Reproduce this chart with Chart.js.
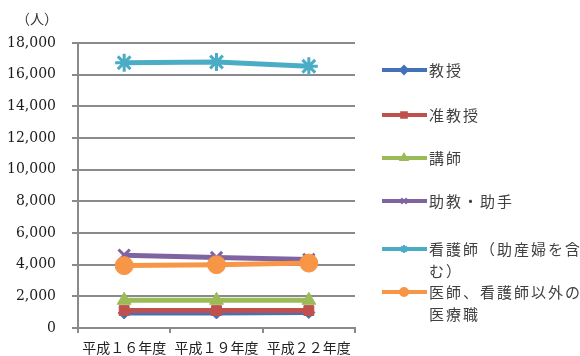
<!DOCTYPE html>
<html>
<head>
<meta charset="utf-8">
<script src="https://cdn.jsdelivr.net/npm/chart.js@4.4.1/dist/chart.umd.min.js"></script>
<style>
  html, body { margin: 0; padding: 0; background: #fff; }
  #wrap { width: 580px; height: 356px; }
</style>
</head>
<body>
<div id="wrap"><canvas id="grafico" width="580" height="356"></canvas></div>
<script>
// Datos del gráfico
const categorias = ['平成１６年度', '平成１９年度', '平成２２年度'];
const series = ['教授', '准教授', '講師', '助教・助手', '看護師（助産婦を含む）', '医師、看護師以外の医療職'];
const kyoju = [950, 950, 980];
const junKyoju = [1100, 1100, 1100];
const koshi = [1750, 1750, 1750];
const jokyo = [4600, 4450, 4330];
const kangoshi = [16750, 16800, 16530];
const iryoshoku = [3940, 4000, 4100];
const ticksY = [0, 2000, 4000, 6000, 8000, 10000, 12000, 14000, 16000, 18000];

const valores = [kyoju, junKyoju, koshi, jokyo, kangoshi, iryoshoku];
const colores = ['#4472B8', '#C0504D', '#9BBB59', '#8064A2', '#4BACC6', '#F79646'];
const marcadores = ['rectRot', 'rect', 'triangle', 'crossRot', 'star', 'circle'];
const radios = [6, 7, 8, 8, 9, 9];

const datasets = series.map(function (nombre, i) {
    return {
        label: nombre,
        data: valores[i],
        borderColor: colores[i],
        backgroundColor: colores[i],
        borderWidth: 5,
        pointStyle: marcadores[i],
        pointRadius: radios[i],
        pointBorderWidth: marcadores[i] === 'star' || marcadores[i] === 'crossRot' ? 3 : 1,
        tension: 0,
        order: series.length - i
    };
});

// Leyenda dibujada a mano (a la derecha, con texto en varias líneas)
const leyendaY = [70, 115, 158, 201, 249, 292];
const pluginLeyenda = {
    id: 'leyenda',
    afterDraw: function (chart) {
        const ctx = chart.ctx;
        ctx.save();
        // unidad del eje
        ctx.font = '14px "Noto Sans CJK JP"';
        ctx.fillStyle = '#333';
        ctx.textAlign = 'center';
        ctx.textBaseline = 'middle';
        ctx.fillText('（人）', 37, 19);

        ctx.font = '15px "Noto Sans CJK JP"';
        ctx.letterSpacing = '2px';
        ctx.textAlign = 'left';
        chart.data.datasets.forEach(function (ds, i) {
            const y = leyendaY[i];
            ctx.strokeStyle = ds.borderColor;
            ctx.lineWidth = 4;
            ctx.beginPath();
            ctx.moveTo(382, y);
            ctx.lineTo(427, y);
            ctx.stroke();
            if (Chart.helpers && Chart.helpers.drawPoint) {
                ctx.fillStyle = ds.backgroundColor;
                ctx.lineWidth = 2;
                Chart.helpers.drawPoint(ctx, { pointStyle: ds.pointStyle, radius: 4, rotation: 0, borderWidth: 2 }, 404, y);
            }
            // partir el texto en líneas
            const lineas = [];
            let actual = '';
            for (const c of ds.label) {
                if (ctx.measureText(actual + c).width > 156 && actual) {
                    lineas.push(actual);
                    actual = c;
                } else {
                    actual += c;
                }
            }
            lineas.push(actual);
            ctx.fillStyle = '#404040';
            lineas.forEach(function (t, j) {
                ctx.fillText(t, 429, y + j * 22);
            });
        });
        ctx.restore();
    }
};

const ctx = document.getElementById('grafico').getContext('2d');
const grafico = new Chart(ctx, {
    type: 'line',
    data: { labels: categorias, datasets: datasets },
    options: {
        responsive: false,
        animation: false,
        layout: { padding: { top: 43, right: 225, left: 0, bottom: 0 } },
        plugins: { legend: { display: false }, tooltip: { enabled: false } },
        scales: {
            x: {
                offset: true,
                grid: { offset: true, drawOnChartArea: false, color: '#8a8a8a', tickLength: 5, lineWidth: 2 },
                border: { color: '#8a8a8a', width: 2 },
                ticks: { color: '#222', padding: 6, maxRotation: 0, font: { family: '"Noto Sans CJK JP"', size: 14 } },
                afterFit: function (scale) { scale.height = 28; }
            },
            y: {
                min: 0,
                max: 18000,
                afterBuildTicks: function (scale) {
                    scale.ticks = ticksY.map(function (v) { return { value: v }; });
                },
                grid: { color: '#8a8a8a', lineWidth: 2, tickLength: 6 },
                border: { color: '#8a8a8a', width: 2 },
                ticks: {
                    color: '#1a1a1a',
                    padding: 16,
                    font: { family: '"DejaVu Serif", "Liberation Serif", serif', size: 14 },
                    callback: function (v) { return v.toLocaleString('en-US'); }
                },
                afterFit: function (scale) { scale.width = 78; }
            }
        }
    },
    plugins: [pluginLeyenda]
});
</script>
</body>
</html>
